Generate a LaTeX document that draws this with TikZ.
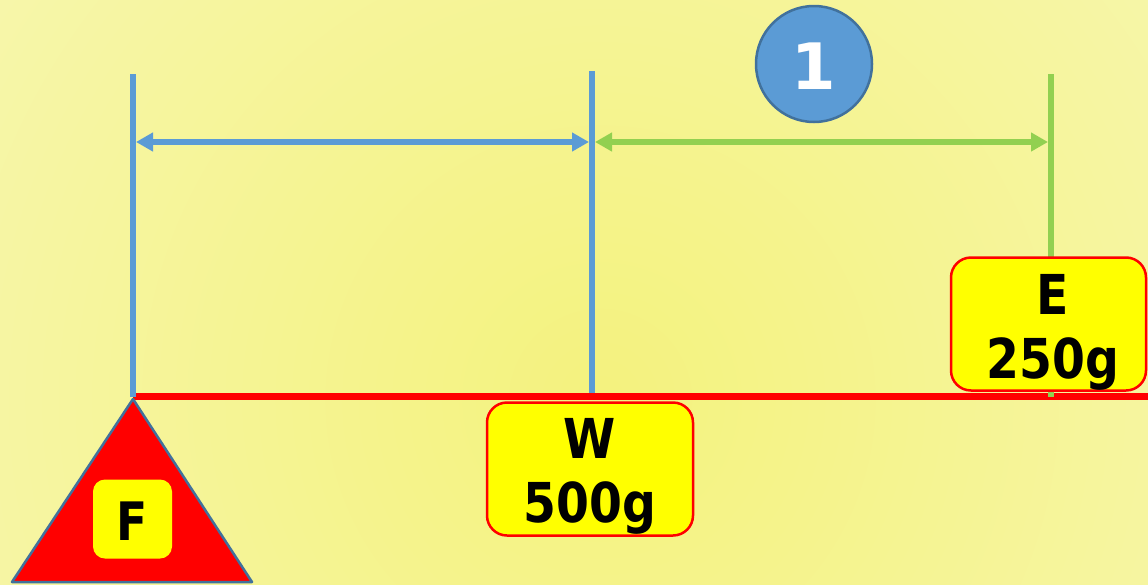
\documentclass[tikz,border=0pt]{standalone}
\usepackage{fontspec}
\setmainfont{DejaVu Sans}
\newfontfamily\lblfont{DejaVu Sans}[FakeStretch=0.86]
\newfontfamily\numfont{DejaVu Sans}
\usetikzlibrary{arrows.meta}
\definecolor{cblue}{HTML}{5B9BD5}
\definecolor{cdblue}{HTML}{41719C}
\definecolor{cgreen}{HTML}{92D050}
\definecolor{cred}{HTML}{FF0000}
\definecolor{cyel}{HTML}{FFFF00}
\definecolor{bgin}{HTML}{F4F27E}
\definecolor{bgout}{HTML}{F8F8C0}
\tikzset{
  x=1pt, y=-1pt,
  vline/.style={line width=6pt},
  dimarrow/.style={line width=6pt, {Triangle[length=17pt,width=18pt]}-{Triangle[length=17pt,width=18pt]}},
  labelbox/.style={draw=cred, line width=2.5pt, fill=cyel, rounded corners=20pt, inner sep=0pt},
  bigtxt/.style={font=\lblfont\bfseries\fontsize{55}{64}\selectfont, anchor=base, inner sep=0pt},
}
\begin{document}
\begin{tikzpicture}
\useasboundingbox (0,0) rectangle (1148,584);
% background
\fill[bgout] (0,0) rectangle (1148,584);
\begin{scope}
\clip (0,0) rectangle (1148,584);
\shade[inner color=bgin, outer color=bgout] (600,400) circle[radius=1100pt];
\end{scope}
% coordinates
\coordinate (A1) at (133,74);
\coordinate (A2) at (133,397);
\coordinate (B1) at (592,71);
\coordinate (B2) at (592,393);
\coordinate (C1) at (1051,74);
\coordinate (C2) at (1051,397);
\coordinate (LA) at (133,142);
\coordinate (LB) at (592,142);
\coordinate (LC) at (1051,142);
\coordinate (R1) at (133,396);
\coordinate (R2) at (1150,396);
% red beam
\draw[cred, line width=7pt] (R1) -- (R2);
% verticals
\draw[vline, cblue] (A1) -- (A2);
\draw[vline, cblue] (B1) -- (B2);
\draw[vline, cgreen] (C1) -- (C2);
% dimension arrows
\draw[dimarrow, cblue, shorten <=3pt, shorten >=3pt] (LA) -- (LB);
\draw[dimarrow, cgreen, shorten <=3pt, shorten >=3pt] (LB) -- (LC);
% fulcrum
\coordinate (T1) at (133,399);
\coordinate (T2) at (12,582);
\coordinate (T3) at (252,582);
\filldraw[fill=cred, draw=cdblue, line width=2.5pt, line join=round] (T1) -- (T2) -- (T3) -- cycle;
\node[fill=cyel, rounded corners=12pt, minimum width=79pt, minimum height=79pt, inner sep=0pt] (fbox) at (132.5,519) {};
\node[bigtxt, font=\lblfont\bfseries\fontsize{53}{64}\selectfont] (ftxt) at (132.5,540) {F};
% W box
\node[labelbox, minimum width=206pt, minimum height=133pt] (wbox) at (590,469) {};
\node[bigtxt] (wtxt) at (590,458) {W};
\node[bigtxt] (wval) at (590,522) {500g};
% E box
\node[labelbox, minimum width=195pt, minimum height=133pt] (ebox) at (1048.5,324) {};
\node[bigtxt] (etxt) at (1053,314) {E};
\node[bigtxt] (evalue) at (1053,378) {250g};
% circle
\node[circle, fill=cblue, draw=cdblue, line width=2.5pt, minimum size=116pt, inner sep=0pt] (num) at (814,64) {};
\node[anchor=base, inner sep=0pt, text=white, font=\numfont\bfseries\fontsize{64}{70}\selectfont] (numtxt) at (814,89) {1};
\end{tikzpicture}
\end{document}
